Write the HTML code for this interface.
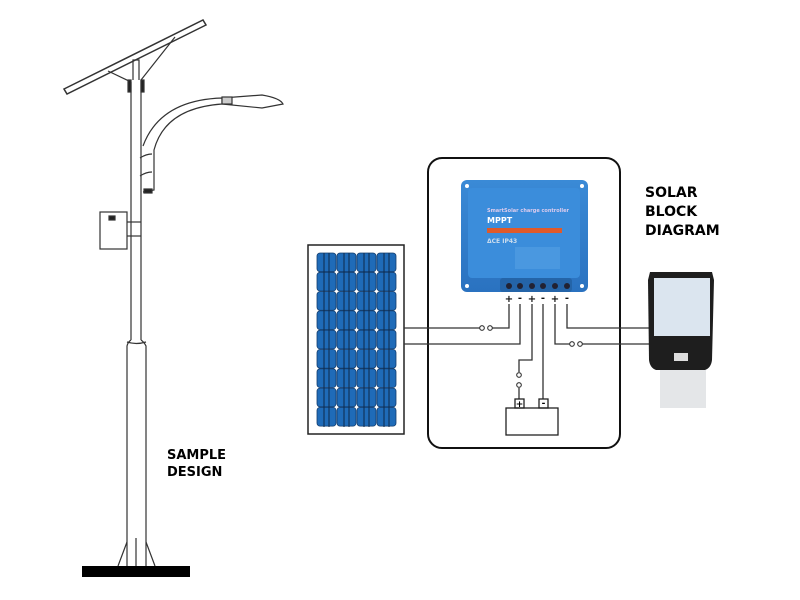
<!DOCTYPE html>
<html><head><meta charset="utf-8"><style>
html,body{margin:0;padding:0;background:#fff;width:800px;height:600px;overflow:hidden}
svg text{font-family:"DejaVu Sans","Liberation Sans",sans-serif;font-weight:bold}
</style></head><body>
<svg width="800" height="600" viewBox="0 0 800 600" xmlns="http://www.w3.org/2000/svg">
<defs>
<linearGradient id="cb" x1="0" y1="0" x2="0" y2="1"><stop offset="0" stop-color="#3a8ad6"/><stop offset="1" stop-color="#2a72c0"/></linearGradient>
</defs>
<g fill="none" stroke="#333" stroke-width="1.2">
<line x1="131" y1="82" x2="131" y2="340"/><line x1="141" y1="80" x2="141" y2="340"/>
<path d="M131 340 Q128 342 127 346 L127 566 M141 340 Q144 342 146 346 L146 566"/>
<path d="M127 342 Q136 345 146 342"/>
<line x1="136" y1="538" x2="136" y2="566"/>
<path d="M127 542 L118 566 M146 542 L155 566"/>
<path d="M64 89 L203 20 L206 25 L67 94 Z" stroke-width="1.5"/>
<path d="M133 80 L133 60 L139 60 L139 80"/>
<path d="M108 71 L131 82 M141 80 L175 37"/>
<rect x="128" y="80" width="3" height="12" fill="#222"/><rect x="141" y="80" width="3" height="12" fill="#222"/>
<path d="M143 146 Q160 100 222 98 L222 104 Q165 108 154 150 L154 190 L143 192"/>
<path d="M222 98 L262 95 Q280 98 283 104 L262 108 L222 104"/>
<rect x="222" y="97" width="10" height="7" fill="#ccc"/>
<path d="M140 158 Q146 154 152 154 M140 176 Q146 172 152 172"/>
<rect x="144" y="189" width="8" height="4" fill="#222"/>
<rect x="100" y="212" width="27" height="37"/>
<rect x="109" y="216" width="6" height="4" fill="#222"/>
<line x1="127" y1="222" x2="141" y2="222"/><line x1="127" y1="236" x2="141" y2="236"/>
</g>
<rect x="82" y="566" width="108" height="11" fill="#000"/>
<text x="167" y="459" font-size="13">SAMPLE</text>
<text x="167" y="476" font-size="13">DESIGN</text>

<rect x="308" y="245" width="96" height="189" fill="#fff" stroke="#222" stroke-width="1.5"/>
<g fill="#1f6bb8" stroke="#153e6e" stroke-width="0.8">
<g id="cells">
<rect x="317" y="253" width="19" height="18.7" rx="3"/><rect x="337" y="253" width="19" height="18.7" rx="3"/><rect x="357" y="253" width="19" height="18.7" rx="3"/><rect x="377" y="253" width="19" height="18.7" rx="3"/>
</g>
<use href="#cells" y="19.3"/><use href="#cells" y="38.6"/><use href="#cells" y="57.9"/><use href="#cells" y="77.2"/><use href="#cells" y="96.5"/><use href="#cells" y="115.8"/><use href="#cells" y="135.1"/><use href="#cells" y="154.4"/>
</g>
<g stroke="#0d2a4a" stroke-width="1">
<line x1="324" y1="253" x2="324" y2="427"/><line x1="329" y1="253" x2="329" y2="427"/>
<line x1="344" y1="253" x2="344" y2="427"/><line x1="349" y1="253" x2="349" y2="427"/>
<line x1="364" y1="253" x2="364" y2="427"/><line x1="369" y1="253" x2="369" y2="427"/>
<line x1="384" y1="253" x2="384" y2="427"/><line x1="389" y1="253" x2="389" y2="427"/>
</g>

<rect x="428" y="158" width="192" height="290" rx="14" fill="none" stroke="#111" stroke-width="2"/>
<rect x="461" y="180" width="127" height="112" rx="6" fill="url(#cb)"/>
<rect x="468" y="188" width="112" height="90" rx="4" fill="#3b8ddb"/>
<circle cx="467" cy="186" r="2" fill="#fff"/><circle cx="582" cy="186" r="2" fill="#fff"/>
<circle cx="467" cy="286" r="2" fill="#fff"/><circle cx="582" cy="286" r="2" fill="#fff"/>
<text x="487" y="212" font-size="5" fill="#dce">SmartSolar charge controller</text>
<text x="487" y="223" font-size="8" fill="#fff">MPPT</text>
<rect x="487" y="228" width="75" height="5" fill="#e05a2a"/>
<text x="487" y="243" font-size="6" fill="#cde">ΔCE IP43</text>
<rect x="515" y="247" width="45" height="22" fill="#4a98e0"/>
<rect x="500" y="278" width="72" height="14" rx="3" fill="#2464a8"/>
<g fill="#223">
<circle cx="509" cy="286" r="3"/><circle cx="520" cy="286" r="3"/><circle cx="532" cy="286" r="3"/><circle cx="543" cy="286" r="3"/><circle cx="555" cy="286" r="3"/><circle cx="567" cy="286" r="3"/>
</g>
<g font-size="10" fill="#111" text-anchor="middle">
<text x="509" y="302">+</text><text x="520" y="301">-</text><text x="532" y="302">+</text><text x="543" y="301">-</text><text x="555" y="302">+</text><text x="567" y="301">-</text>
</g>
<g fill="none" stroke="#333" stroke-width="1.3">
<path d="M509 304 L509 328 L492 328 M480 328 L404 328"/>
<path d="M520 304 L520 344 L404 344"/>
<path d="M532 304 L532 360 L519 360 L519 372 M519 388 L519 399"/>
<path d="M543 304 L543 399"/>
<path d="M555 304 L555 344 L570 344 M582 344 L650 344"/>
<path d="M567 304 L567 328 L650 328"/>
<rect x="506" y="408" width="52" height="27" stroke="#222"/>
<rect x="515" y="399" width="9" height="9" stroke="#222"/>
<rect x="539" y="399" width="9" height="9" stroke="#222"/>
</g>
<g fill="#fff" stroke="#333" stroke-width="1.1">
<circle cx="482" cy="328" r="2.3"/><circle cx="490" cy="328" r="2.3"/>
<circle cx="572" cy="344" r="2.3"/><circle cx="580" cy="344" r="2.3"/>
<circle cx="519" cy="375" r="2.3"/><circle cx="519" cy="385" r="2.3"/>
</g>
<text x="519.5" y="407" font-size="9" text-anchor="middle">+</text>
<text x="543.5" y="406" font-size="9" text-anchor="middle">-</text>
<path d="M650 272 L712 272 L714 280 L712 360 Q711 368 705 370 L656 370 Q650 368 649 360 L648 280 Z" fill="#1e1e1e"/>
<rect x="654" y="278" width="56" height="58" fill="#dbe5ef"/>
<rect x="674" y="353" width="14" height="8" fill="#ddd"/>
<rect x="660" y="370" width="46" height="38" fill="#e4e6e8"/>
<text x="645" y="197" font-size="14">SOLAR</text>
<text x="645" y="216" font-size="14">BLOCK</text>
<text x="645" y="235" font-size="14">DIAGRAM</text>
</svg>
</body></html>
